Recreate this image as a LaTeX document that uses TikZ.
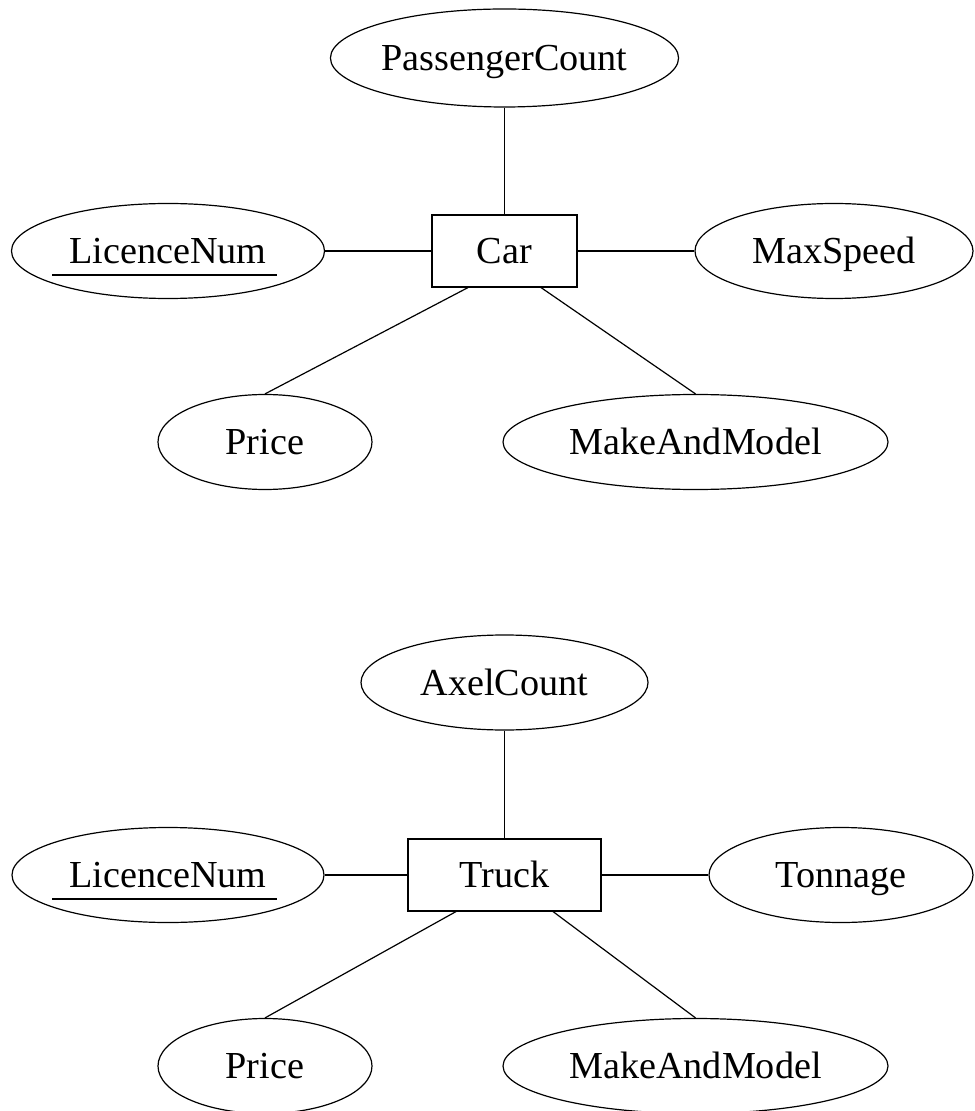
\documentclass[tikz,border=0pt]{standalone}
\usepackage{fontspec}
\setmainfont{Liberation Serif}
\usetikzlibrary{shapes.geometric,calc}

\begin{document}
\begin{tikzpicture}[x=0.5pt,y=-0.5pt,line width=0.6pt,
  every node/.style={draw,inner sep=0pt,text height=14pt,text depth=1.4pt,
    font=\fontsize{19.1}{23}\selectfont},
  attr/.style={ellipse,minimum height=47.5pt},
  entity/.style={rectangle,minimum height=36pt}]
  \useasboundingbox (0,0) rectangle (974,1111);
  \clip (0,0) rectangle (974,1111);

  % car
  \node[entity,minimum width=72.5pt] (car) at (504.5,251) {Car};
  \node[attr,minimum width=167.5pt,minimum height=49pt] (pc) at (504.5,58) {PassengerCount};
  \node[attr,minimum width=156.5pt] (lnA) at (168,251) {LicenceNum};
  \node[attr,minimum width=139pt] (ms) at (834,251) {MaxSpeed};
  \node[attr,minimum width=107pt] (priceA) at (265,442) {Price};
  \node[attr,minimum width=192.5pt] (mmA) at (695.5,442) {MakeAndModel};

  % truck
  \node[entity,minimum width=96.5pt] (truck) at (504.5,875) {Truck};
  \node[attr,minimum width=143.5pt] (ac) at (504.5,682.5) {AxelCount};
  \node[attr,minimum width=156pt] (lnB) at (168,875) {LicenceNum};
  \node[attr,minimum width=132pt] (ton) at (841,875) {Tonnage};
  \node[attr,minimum width=107pt] (priceB) at (265,1066) {Price};
  \node[attr,minimum width=192.5pt] (mmB) at (695.5,1066) {MakeAndModel};

  \foreach \e/\t/\r/\k in {car/pc/ms/A,truck/ac/ton/B}{
    \draw (\t.south) -- (\e.north);
    \draw (ln\k.east) -- (\e.west);
    \draw (\e.east) -- (\r.west);
    \draw ($(\e.south west)!.25!(\e.south east)$) -- (price\k.north);
    \draw ($(\e.south west)!.75!(\e.south east)$) -- (mm\k.north);
    % key underline
    \draw ([xshift=-58pt,yshift=-12pt]ln\k.center) -- ([xshift=54.5pt,yshift=-12pt]ln\k.center);
  }
\end{tikzpicture}
\end{document}
